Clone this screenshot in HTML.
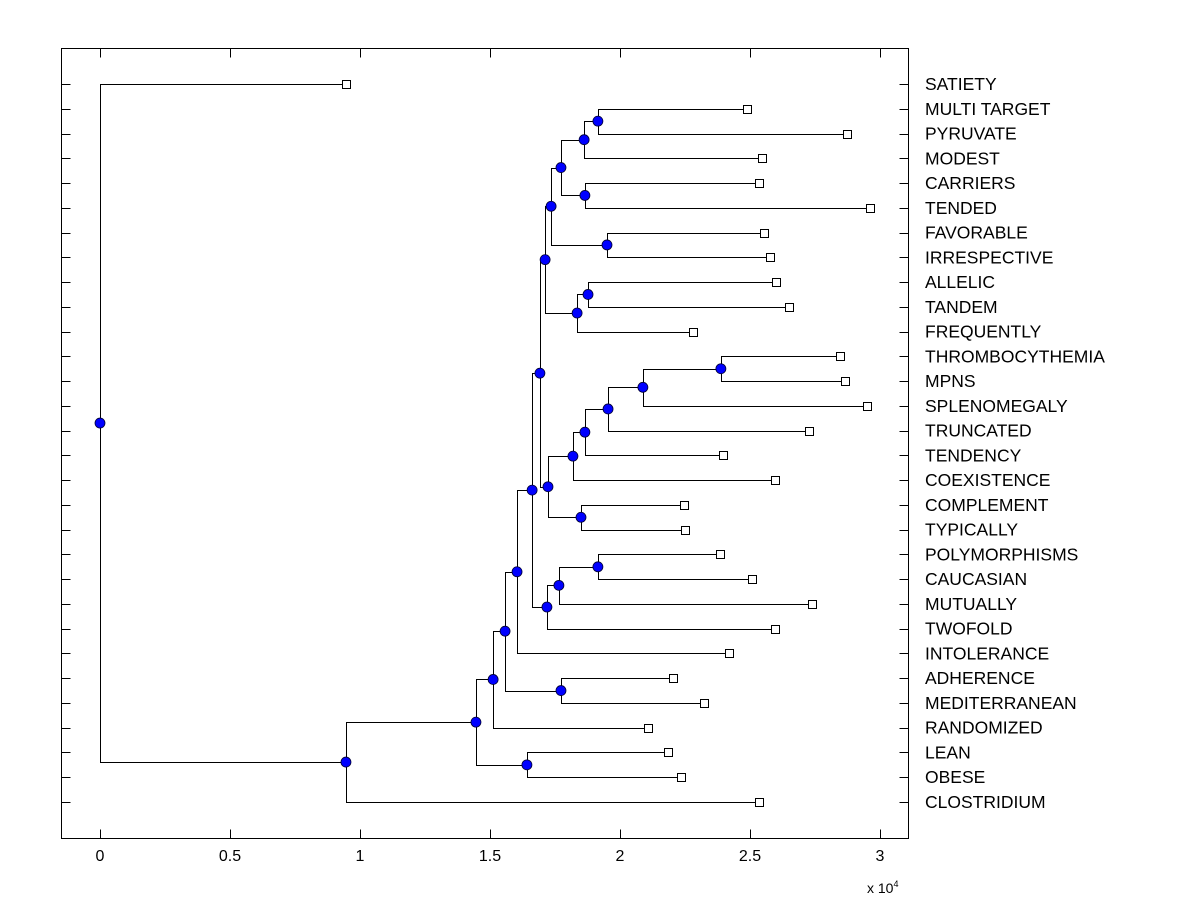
<!DOCTYPE html>
<html><head><meta charset="utf-8"><style>
body{margin:0;background:#fff;}
svg{display:block;font-family:"Liberation Sans",Arial,sans-serif;}
</style></head><body>
<svg id="chart" width="1200" height="900"></svg>
<script>
const labels=["SATIETY","MULTI TARGET","PYRUVATE","MODEST","CARRIERS","TENDED","FAVORABLE","IRRESPECTIVE","ALLELIC","TANDEM","FREQUENTLY","THROMBOCYTHEMIA","MPNS","SPLENOMEGALY","TRUNCATED","TENDENCY","COEXISTENCE","COMPLEMENT","TYPICALLY","POLYMORPHISMS","CAUCASIAN","MUTUALLY","TWOFOLD","INTOLERANCE","ADHERENCE","MEDITERRANEAN","RANDOMIZED","LEAN","OBESE","CLOSTRIDIUM"];
const leafValues=[0.946,2.488,2.873,2.546,2.535,2.962,2.554,2.577,2.6,2.65,2.281,2.846,2.865,2.95,2.727,2.396,2.596,2.246,2.25,2.385,2.508,2.738,2.596,2.419,2.204,2.323,2.108,2.185,2.235,2.535];
const mergeLeft=[1,30,4,31,6,33,8,36,35,11,39,40,41,42,17,43,38,19,47,48,46,50,24,51,53,27,54,56,0];
const mergeRight=[2,3,5,32,7,34,9,10,37,12,13,14,15,16,18,44,45,20,21,22,49,23,25,52,26,28,55,29,57];
const mergeValue=[1.915,1.862,1.865,1.773,1.95,1.735,1.877,1.835,1.712,2.388,2.088,1.954,1.865,1.819,1.85,1.723,1.692,1.915,1.765,1.719,1.662,1.604,1.773,1.558,1.512,1.642,1.446,0.946,0];
const xTicks=[0,0.5,1,1.5,2,2.5,3];
const xTickLabels=["0","0.5","1","1.5","2","2.5","3"];

const NS="http://www.w3.org/2000/svg";
const svg=document.getElementById('chart');
const L=61.5,R=908.5,T=48.5,B=838.5;
const X=v=>100+v*260;
const Y=i=>84+i*(802-84)/(labels.length-1);
function mk(t,a,p){const e=document.createElementNS(NS,t);for(const k in a)e.setAttribute(k,a[k]);(p||svg).appendChild(e);return e;}

const axes=mk('rect',{x:L,y:T,width:R-L,height:B-T,fill:'none',stroke:'#000','stroke-width':1});



xTicks.forEach((v,i)=>{
  const x=Math.round(X(v))+0.5;
  const t1=mk('line',{x1:x,x2:x,y1:B,y2:B-9,stroke:'#000'});
  
  
  const t2=mk('line',{x1:x,x2:x,y1:T,y2:T+9,stroke:'#000'});
  
  
  const tl=mk('text',{x:X(v),y:861,'font-size':16,'text-anchor':'middle'});
  tl.textContent=xTickLabels[i];
  
  
});
const ex=mk('text',{x:867,y:893,'font-size':14});
ex.innerHTML='x 10<tspan dy="-6" font-size="9">4</tspan>';



labels.forEach((lab,i)=>{
  const y=Math.round(Y(i))+0.5;
  const a=mk('line',{x1:L,x2:L+9,y1:y,y2:y,stroke:'#000'});
  
  
  const b=mk('line',{x1:R,x2:R-9,y1:y,y2:y,stroke:'#000'});
  
  
  const t=mk('text',{x:925,y:Y(i)+6,'font-size':17.5});
  t.textContent=lab;
  
  
});

const nx=leafValues.slice(), ny=labels.map((_,i)=>Y(i));
mergeValue.forEach((h,k)=>{
  const a=mergeLeft[k],b=mergeRight[k];
  nx.push(h); ny.push((ny[a]+ny[b])/2);
});
const lines=mk('g',{stroke:'#000','stroke-width':1,fill:'none'});


mergeValue.forEach((h,k)=>{
  const a=mergeLeft[k],b=mergeRight[k];
  const x=Math.round(X(h))+0.5;
  const ya=Math.round(ny[a])+0.5, yb=Math.round(ny[b])+0.5;
  const p=mk('path',{d:`M${Math.round(X(nx[a]))+0.5},${ya}H${x}V${yb}H${Math.round(X(nx[b]))+0.5}`},lines);
  
  
});
labels.forEach((_,i)=>{
  const s=mk('rect',{x:Math.round(X(nx[i]))-3.5,y:Math.round(ny[i])-3.5,width:8,height:8,fill:'#fff',stroke:'#000'});
  
  
});
mergeValue.forEach((h,k)=>{
  const id=labels.length+k;
  const c=mk('circle',{cx:X(nx[id]),cy:ny[id],r:5,fill:'#0000ff',stroke:'#000033','stroke-width':0.8});
  
  
});
</script>
</body></html>
